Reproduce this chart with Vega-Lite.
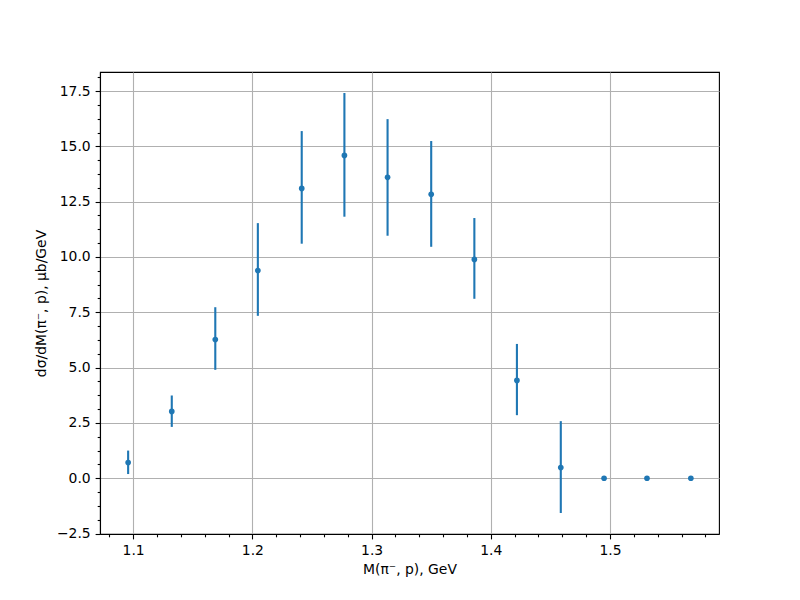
{
  "$schema": "https://vega.github.io/schema/vega-lite/v6.json",
  "width": 619,
  "height": 462,
  "autosize": {"type": "none"},
  "padding": {"left": 100, "top": 72, "right": 81, "bottom": 66},
  "background": "white",
  "config": {
    "view": {"stroke": "black", "strokeWidth": 1.1},
    "font": "DejaVu Sans",
    "axis": {
      "labelFont": "DejaVu Sans",
      "titleFont": "DejaVu Sans",
      "labelFontSize": 13.9,
      "titleFontSize": 13.9,
      "labelColor": "black",
      "titleColor": "black",
      "titleFontWeight": "normal",
      "tickColor": "black",
      "domainColor": "black",
      "domainWidth": 1.1,
      "tickWidth": 1.1,
      "gridColor": "#b0b0b0",
      "gridWidth": 1.1,
      "gridOpacity": 1
    }
  },
  "data": {
    "values": [
      {"m": 1.0958, "v": 0.71, "lo": 0.19, "hi": 1.25},
      {"m": 1.1324, "v": 3.02, "lo": 2.32, "hi": 3.74},
      {"m": 1.1689, "v": 6.27, "lo": 4.90, "hi": 7.73},
      {"m": 1.2046, "v": 9.39, "lo": 7.34, "hi": 11.53},
      {"m": 1.2414, "v": 13.10, "lo": 10.60, "hi": 15.69},
      {"m": 1.2772, "v": 14.59, "lo": 11.82, "hi": 17.41},
      {"m": 1.3134, "v": 13.60, "lo": 10.96, "hi": 16.23},
      {"m": 1.3500, "v": 12.83, "lo": 10.46, "hi": 15.24},
      {"m": 1.3862, "v": 9.89, "lo": 8.11, "hi": 11.76},
      {"m": 1.4219, "v": 4.42, "lo": 2.85, "hi": 6.07},
      {"m": 1.4587, "v": 0.48, "lo": -1.57, "hi": 2.58},
      {"m": 1.4950, "v": 0.0, "lo": 0.0, "hi": 0.0},
      {"m": 1.5310, "v": 0.0, "lo": 0.0, "hi": 0.0},
      {"m": 1.5678, "v": 0.0, "lo": 0.0, "hi": 0.0}
    ]
  },
  "resolve": {"axis": {"x": "independent", "y": "independent"}},
  "layer": [
    {
      "mark": {"type": "rule", "color": "#1f77b4", "strokeWidth": 2.1},
      "encoding": {
        "x": {
          "field": "m", "type": "quantitative",
          "scale": {"domain": [1.0722, 1.5914], "nice": false, "zero": false},
          "axis": {
            "orient": "bottom",
            "values": [1.1, 1.2, 1.3, 1.4, 1.5],
            "format": ".1f",
            "grid": true,
            "tickSize": 4.9,
            "labelPadding": 4.9,
            "title": "M(π⁻, p), GeV",
            "titlePadding": 5
          }
        },
        "y": {
          "field": "lo", "type": "quantitative",
          "scale": {"domain": [-2.52, 18.36], "nice": false, "zero": false},
          "axis": {
            "orient": "left",
            "values": [-2.5, 0, 2.5, 5, 7.5, 10, 12.5, 15, 17.5],
            "format": ".1f",
            "grid": true,
            "tickSize": 4.9,
            "labelPadding": 4.9,
            "title": "dσ/dM(π⁻, p), μb/GeV",
            "titlePadding": 8
          }
        },
        "y2": {"field": "hi"}
      }
    },
    {
      "mark": {"type": "point", "filled": true, "color": "#1f77b4", "size": 32, "opacity": 1},
      "encoding": {
        "x": {"field": "m", "type": "quantitative", "scale": {"domain": [1.0722, 1.5914], "nice": false, "zero": false}, "axis": null},
        "y": {"field": "v", "type": "quantitative", "scale": {"domain": [-2.52, 18.36], "nice": false, "zero": false}, "axis": null}
      }
    },
    {
      "mark": {"type": "point", "opacity": 0},
      "encoding": {
        "x": {
          "field": "m", "type": "quantitative",
          "scale": {"domain": [1.0722, 1.5914], "nice": false, "zero": false},
          "axis": {
            "orient": "bottom",
            "values": [1.08, 1.12, 1.14, 1.16, 1.18, 1.22, 1.24, 1.26, 1.28, 1.32, 1.34, 1.36, 1.38, 1.42, 1.44, 1.46, 1.48, 1.52, 1.54, 1.56, 1.58],
            "labels": false, "grid": false, "domain": false, "tickSize": 2.8, "title": null
          }
        },
        "y": {
          "field": "v", "type": "quantitative",
          "scale": {"domain": [-2.52, 18.36], "nice": false, "zero": false},
          "axis": {
            "orient": "left",
            "values": [-1.875, -1.25, -0.625, 0.625, 1.25, 1.875, 3.125, 3.75, 4.375, 5.625, 6.25, 6.875, 8.125, 8.75, 9.375, 10.625, 11.25, 11.875, 13.125, 13.75, 14.375, 15.625, 16.25, 16.875, 18.125],
            "labels": false, "grid": false, "domain": false, "tickSize": 2.8, "title": null
          }
        }
      }
    }
  ]
}
